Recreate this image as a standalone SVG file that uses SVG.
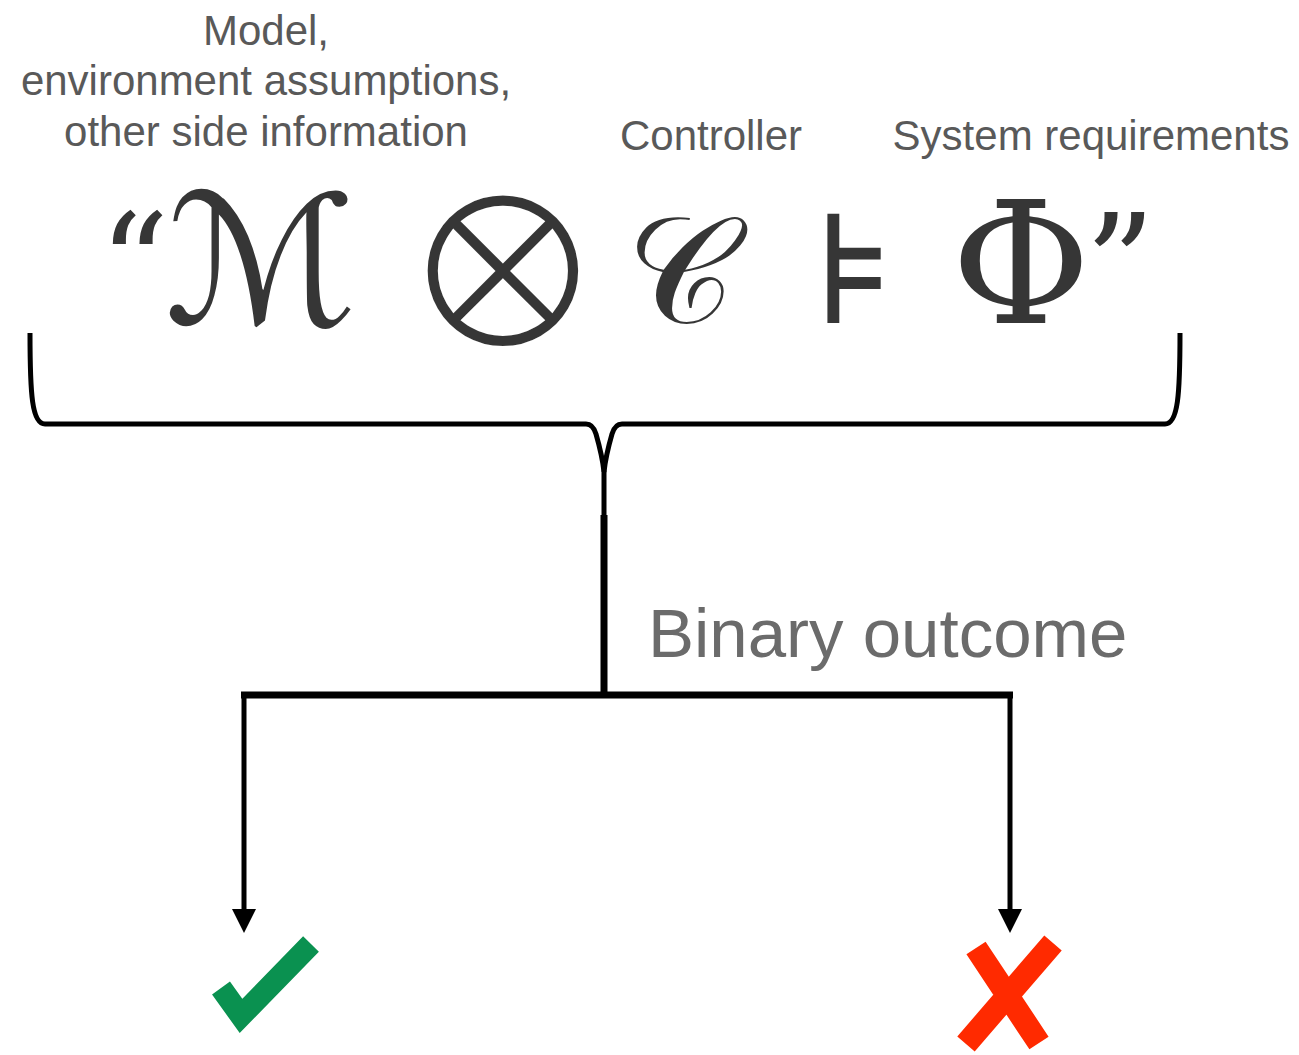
<svg xmlns="http://www.w3.org/2000/svg" width="1299" height="1055" viewBox="0 0 1299 1055">
  <style>
    .label { font-family: "Liberation Sans", Arial, sans-serif; font-size: 42px; fill: #595959; text-anchor: middle; }
    .outcome { font-family: "Liberation Sans", Arial, sans-serif; font-size: 69px; fill: #6b6b6b; }
    .math { font-family: "DejaVu Serif", "DejaVu Sans", "Liberation Serif", serif; fill: #363636; text-anchor: middle; }
    .wire { fill: none; stroke: #000; stroke-linecap: butt; stroke-linejoin: round; }
    .mark { fill: none; stroke-linecap: butt; stroke-linejoin: miter; }
  </style>
  <defs>
    <marker id="arrow" markerUnits="userSpaceOnUse" viewBox="0 0 24 24" markerWidth="24" markerHeight="24" refX="6" refY="12" orient="auto">
      <path d="M0,0 L24,12 L0,24 Z" fill="#000"/>
    </marker>
  </defs>
  <rect width="1299" height="1055" fill="#fff"/>

  <!-- captions above the formula -->
  <g id="model-label">
    <text class="label" x="266" y="45">Model,</text>
    <text class="label" x="266" y="95">environment assumptions,</text>
    <text class="label" x="266" y="146">other side information</text>
  </g>
  <g id="controller-label">
    <text class="label" x="711" y="150">Controller</text>
  </g>
  <g id="requirements-label">
    <text class="label" x="1091" y="150">System requirements</text>
  </g>

  <!-- the verification statement -->
  <g id="formula">
    <text class="math" x="134" y="313" font-size="138">“</text>
    <text class="math" x="261" y="324" font-size="180">ℳ</text>
    <!-- white outline thins the heavy operator glyph down to a light ring -->
    <text class="math" x="503" y="351" font-size="256" stroke="#fff" stroke-width="9.8" paint-order="fill">⊗</text>
    <text class="math" x="680" y="323" font-size="150">𝒞</text>
    <text class="math" x="854" y="323" font-size="150">⊧</text>
    <text class="math" x="1021" y="323" font-size="170">Φ</text>
    <text class="math" x="1120" y="313" font-size="138">”</text>
  </g>

  <g id="binary-outcome-label">
    <text class="outcome" x="648" y="657">Binary outcome</text>
  </g>

  <!-- brace, stem and the two outcome branches -->
  <g id="connectors">
    <path class="wire" stroke-width="5" d="M30,333 C30,395 32,424 45,424 L586,424 Q593,424 596,434 C600,448 603,462 604,472 L604,516"/>
    <path class="wire" stroke-width="5" d="M1180,333 C1180,395 1178,424 1165,424 L622,424 Q615,424 612,434 C608,448 605,462 604,472"/>
    <path class="wire" stroke-width="7" d="M604,515 L604,695"/>
    <path class="wire" stroke-width="7" d="M241,695 L1013,695"/>
    <path class="wire" stroke-width="5" d="M244,693 L244,915" marker-end="url(#arrow)"/>
    <path class="wire" stroke-width="5" d="M1010,693 L1010,915" marker-end="url(#arrow)"/>
  </g>

  <!-- outcome marks -->
  <g id="valid">
    <polyline class="mark" stroke="#0a9150" stroke-width="22" points="221,988 241,1016 311,944"/>
  </g>
  <g id="invalid">
    <path class="mark" stroke="#ff2a00" stroke-width="23" d="M976,948 L1039,1043 M1053,943 L966,1044"/>
  </g>
</svg>
